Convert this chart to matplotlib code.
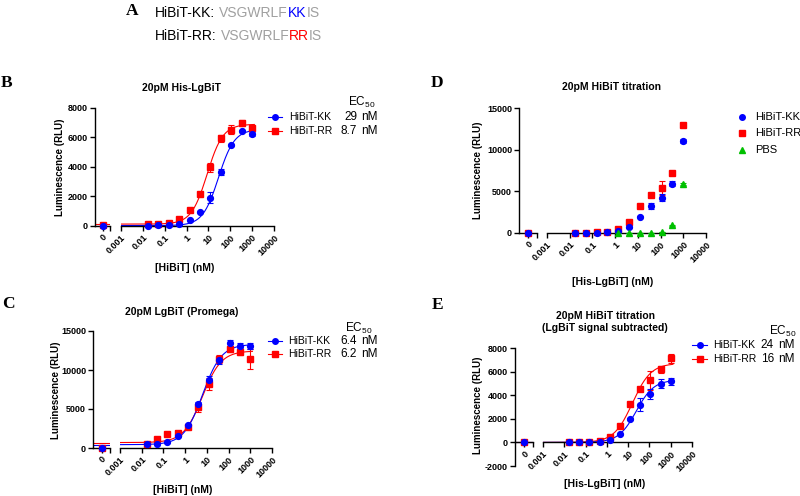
import numpy as np
import matplotlib
matplotlib.use('Agg')
import matplotlib.pyplot as plt
from matplotlib.lines import Line2D
from matplotlib.ticker import NullLocator

W, H = 800, 496

plt.rcParams['font.family'] = ['Liberation Sans', 'DejaVu Sans']
plt.rcParams['mathtext.fontset'] = 'custom'
plt.rcParams['mathtext.rm'] = 'Liberation Sans'
plt.rcParams['mathtext.default'] = 'regular'

# ---- data ----
# 3-fold dilutions from 1000 nM (nM)
conc = [0.0169, 0.0508, 0.152, 0.457, 1.37, 4.12, 12.3, 37.0, 111.0, 333.0, 1000.0]
xticks = [0.001, 0.01, 0.1, 1, 10, 100, 1000, 10000]
xtick_labels = ['0.001', '0.01', '0.1', '1', '10', '100', '1000', '10000']

# A: peptide sequences, (text, colour) pieces
seq_kk = [('HiBiT-KK:', 'black'), ('VSGWRLF', '#a0a0a0'), ('KK', '#0000ff'), ('IS', '#a0a0a0')]
seq_rr = [('HiBiT-RR:', 'black'), ('VSGWRLF', '#a0a0a0'), ('RR', '#ff0000'), ('IS', '#a0a0a0')]

# B: 20pM His-LgBiT
b_kk_zero, b_rr_zero = 20, 40
b_kk = [30, 40, 50, 110, 390, 960, 1930, 3680, 5480, 6450, 6250]
b_kk_err = [20, 20, 20, 20, 30, 40, 350, 200, 80, 60, 150]
b_rr = [160, 160, 230, 500, 1070, 2200, 3980, 5950, 6520, 6980, 6640]
b_rr_err = [30, 30, 30, 40, 60, 80, 300, 250, 300, 200, 150]
b_fit_kk = (30, 6550, 29, 1.2)     # bottom, top, EC50, hill
b_fit_rr = (130, 6900, 8.7, 1.2)

# C: 20pM LgBiT (Promega)
c_kk_zero, c_rr_zero = 50, 0
c_kk = [500, 550, 720, 1600, 2900, 5650, 8700, 11250, 13400, 13100, 13100]
c_kk_err = [100, 100, 100, 150, 200, 300, 500, 500, 500, 300, 400]
c_rr = [500, 1150, 1800, 1870, 2720, 5200, 8200, 11400, 12650, 12350, 11400]
c_rr_err = [100, 150, 150, 150, 200, 600, 800, 500, 400, 400, 1300]
c_fit_kk = (430, 13300, 6.4, 1.0)
c_fit_rr = (700, 12450, 6.2, 1.0)

# D: 20pM HiBiT titration
d_kk_zero, d_rr_zero = 0, 0
d_kk = [0, 0, 40, 80, 200, 690, 1980, 3230, 4230, 5890, 11050]
d_kk_err = [20, 20, 20, 30, 40, 60, 100, 400, 400, 300, 200]
d_rr = [0, 20, 80, 160, 440, 1370, 3230, 4560, 5400, 7180, 12980]
d_rr_err = [20, 20, 20, 30, 40, 60, 100, 150, 850, 200, 200]
d_pbs_conc = [1.37, 4.12, 12.3, 37.0, 111.0, 333.0, 1000.0]
d_pbs = [0, 0, 0, 0, 120, 930, 5850]
d_pbs_err = [10, 10, 10, 10, 20, 60, 100]

# E: 20pM HiBiT titration, LgBiT signal subtracted
e_kk_zero, e_rr_zero = 0, 0
e_kk = [0, 0, 0, 60, 170, 680, 1990, 3180, 4110, 4990, 5190]
e_kk_err = [20, 20, 20, 30, 40, 60, 100, 550, 450, 350, 300]
e_rr = [0, 30, 60, 110, 430, 1390, 3230, 4540, 5250, 6210, 7120]
e_rr_err = [20, 20, 20, 30, 40, 60, 100, 150, 800, 300, 350]
e_fit_kk = (0, 5300, 24, 1.05)
e_fit_rr = (0, 6700, 16, 1.0)

BLUE = '#0000ff'
RED = '#ff0000'
GREEN = '#00c000'

fig = plt.figure(figsize=(8, 4.96), dpi=100)
renderer = fig.canvas.get_renderer()


def fx(x):
    return x / W


def fy(y):
    return 1 - y / H


def four_pl(x, p):
    bottom, top, ec50, hill = p
    return bottom + (top - bottom) / (1 + (ec50 / x) ** hill)


def broken_axes(y_axis, seg_end, main_start, main_end, top_px, bot_px, ylim, yticks, zero_line=False):
    b = fy(bot_px)
    h = (bot_px - top_px) / H
    ax0 = fig.add_axes([fx(y_axis), b, (seg_end - y_axis) / W, h])
    ax1 = fig.add_axes([fx(main_start), b, (main_end - main_start) / W, h])
    for ax in (ax0, ax1):
        ax.set_ylim(ylim)
        ax.patch.set_visible(False)
        ax.spines['top'].set_visible(False)
        ax.spines['right'].set_visible(False)
        for s in ax.spines.values():
            s.set_linewidth(1.0)
        ax.tick_params(width=1.0, length=3.5, labelsize=6.5, pad=1.5)
        if zero_line:
            ax.spines['bottom'].set_position(('data', 0))
    ax0.set_xlim(-1, 1)
    ax0.set_xticks([0, 1])
    ax0.set_xticklabels(['0', ''], rotation=45, ha='right', va='top',
                        rotation_mode='anchor', fontweight='bold', fontsize=6.5)
    ax0.set_yticks(yticks)
    ax0.set_yticklabels([str(v) for v in yticks], fontweight='bold', fontsize=6.5)
    ax1.set_xscale('log')
    ax1.set_xlim(1e-3, 1e4)
    ax1.set_xticks(xticks)
    ax1.set_xticklabels(xtick_labels, rotation=45, ha='right', va='top',
                        rotation_mode='anchor', fontweight='bold', fontsize=6.5)
    ax1.xaxis.set_minor_locator(NullLocator())
    ax1.spines['left'].set_visible(False)
    ax1.tick_params(axis='y', left=False, labelleft=False)
    return ax0, ax1


def series(ax0, ax1, zero, vals, errs, color, marker, ms, fit=None, x=conc):
    kw = dict(fmt=marker, color=color, ms=ms, capsize=2, elinewidth=0.8,
              capthick=0.8, clip_on=False, zorder=3)
    if zero is not None:
        ax0.errorbar([0], [zero], yerr=[errs[0]], **kw)
    ax1.errorbar(x, vals, yerr=errs, **kw)
    if fit is not None:
        xf = np.logspace(-3, 3.1, 300)
        ax1.plot(xf, four_pl(xf, fit), color=color, lw=0.8, zorder=2)
        ax0.plot([-1, 1], [fit[0], fit[0]], color=color, lw=0.8, zorder=2)


def title(x, y, s):
    fig.text(fx(x), fy(y), s, fontsize=7.5, fontweight='bold', ha='center', va='center',
             linespacing=1.3)


def letter(x, y, s):
    fig.text(fx(x), fy(y), s, fontsize=12.5, fontweight='bold', family='Liberation Serif',
             ha='left', va='center')


def ylab(x, y, s='Luminescence (RLU)'):
    fig.text(fx(x), fy(y), s, fontsize=7, fontweight='bold', rotation=90, ha='center', va='center')


def xlab(x, y, s):
    fig.text(fx(x), fy(y), s, fontsize=7.5, fontweight='bold', ha='center', va='center')


def legend_row(xl0, xl1, y, color, marker, label, xt, fs=7.5, line=True, ms=4):
    if line:
        fig.add_artist(Line2D([fx(xl0), fx(xl1)], [fy(y), fy(y)], color=color, lw=0.8,
                              transform=fig.transFigure))
    fig.add_artist(Line2D([fx((xl0 + xl1) / 2)], [fy(y)], marker=marker, color=color, ms=ms,
                          ls='none', transform=fig.transFigure))
    fig.text(fx(xt), fy(y), label, fontsize=fs, ha='left', va='center')


def ec50_row(xr, y, val):
    fig.text(fx(xr), fy(y), val, fontsize=8.5, ha='right', va='center')
    fig.text(fx(xr + 4), fy(y), 'nM', fontsize=8.5, ha='left', va='center')


def text_width(s, fs):
    t = fig.text(0, 0, s, fontsize=fs)
    w = t.get_window_extent(renderer).width
    t.remove()
    return w


def coloured_line(x0, y, pieces, fs=10):
    prefix = ''
    for i, (s, c) in enumerate(pieces):
        if i == 0:
            x = x0
        else:
            x = x0 + text_width(prefix + s, fs) - text_width(s, fs)
        fig.text(fx(x), fy(y), s, color=c, fontsize=fs, ha='left', va='center')
        prefix += s + (' ' if i == 0 else '')


# ---- A ----
letter(126, 11, 'A')
coloured_line(155, 13, seq_kk)
coloured_line(155, 36, seq_rr)

# ---- B ----
letter(1, 83, 'B')
title(182, 88, '20pM His-LgBiT')
bx0, bx1 = broken_axes(95, 110, 121, 274, 108, 226, (0, 8000), [0, 2000, 4000, 6000, 8000])
series(bx0, bx1, b_rr_zero, b_rr, b_rr_err, RED, 's', 3.8, b_fit_rr)
series(bx0, bx1, b_kk_zero, b_kk, b_kk_err, BLUE, 'o', 4.2, b_fit_kk)
ylab(60, 167)
xlab(185, 268, '[HiBiT] (nM)')
fig.text(fx(348), fy(102), 'EC$_{50}$', fontsize=8.5, ha='left', va='center')
legend_row(268, 282, 117, BLUE, 'o', 'HiBiT-KK', 289)
legend_row(268, 282, 131, RED, 's', 'HiBiT-RR', 289)
ec50_row(357, 117, '29')
ec50_row(357, 131, '8.7')

# ---- C ----
letter(2, 304, 'C')
title(182, 312, '20pM LgBiT (Promega)')
cx0, cx1 = broken_axes(93, 110, 120, 272, 331, 448, (0, 15000), [0, 5000, 10000, 15000])
series(cx0, cx1, c_rr_zero, c_rr, c_rr_err, RED, 's', 3.8, c_fit_rr)
series(cx0, cx1, c_kk_zero, c_kk, c_kk_err, BLUE, 'o', 4.2, c_fit_kk)
ylab(56, 390)
xlab(183, 490, '[HiBiT] (nM)')
fig.text(fx(345), fy(328), 'EC$_{50}$', fontsize=8.5, ha='left', va='center')
legend_row(268, 282, 341, BLUE, 'o', 'HiBiT-KK', 288)
legend_row(268, 282, 354, RED, 's', 'HiBiT-RR', 288)
ec50_row(357, 341, '6.4')
ec50_row(357, 354, '6.2')

# ---- D ----
letter(431, 83, 'D')
title(612, 87, '20pM HiBiT titration')
dx0, dx1 = broken_axes(519, 537, 547, 706, 108, 233, (0, 15000), [0, 5000, 10000, 15000])
series(dx0, dx1, d_rr_zero, d_rr, d_rr_err, RED, 's', 3.8)
series(dx0, dx1, d_kk_zero, d_kk, d_kk_err, BLUE, 'o', 4.2)
series(dx0, dx1, None, d_pbs, d_pbs_err, GREEN, '^', 3.8, x=d_pbs_conc)
ylab(478, 170)
xlab(613, 282, '[His-LgBiT] (nM)')
legend_row(736, 748, 117, BLUE, 'o', 'HiBiT-KK', 755, fs=8, line=False)
legend_row(736, 748, 133, RED, 's', 'HiBiT-RR', 755, fs=8, line=False)
legend_row(736, 748, 150, GREEN, '^', 'PBS', 755, fs=8, line=False)

# ---- E ----
letter(432, 305, 'E')
title(605, 322, '20pM HiBiT titration\n(LgBiT signal subtracted)')
ex0, ex1 = broken_axes(515, 533, 543, 692, 348, 466, (-2000, 8000),
                       [-2000, 0, 2000, 4000, 6000, 8000], zero_line=True)
series(ex0, ex1, e_rr_zero, e_rr, e_rr_err, RED, 's', 3.8, e_fit_rr)
series(ex0, ex1, e_kk_zero, e_kk, e_kk_err, BLUE, 'o', 4.2, e_fit_kk)
ylab(478, 405)
xlab(605, 484, '[His-LgBiT] (nM)')
fig.text(fx(769), fy(331), 'EC$_{50}$', fontsize=8.5, ha='left', va='center')
legend_row(692, 707, 345, BLUE, 'o', 'HiBiT-KK', 713)
legend_row(692, 707, 359, RED, 's', 'HiBiT-RR', 713)
ec50_row(774, 345, '24')
ec50_row(774, 359, '16')

fig.savefig('out.png', dpi=100)
